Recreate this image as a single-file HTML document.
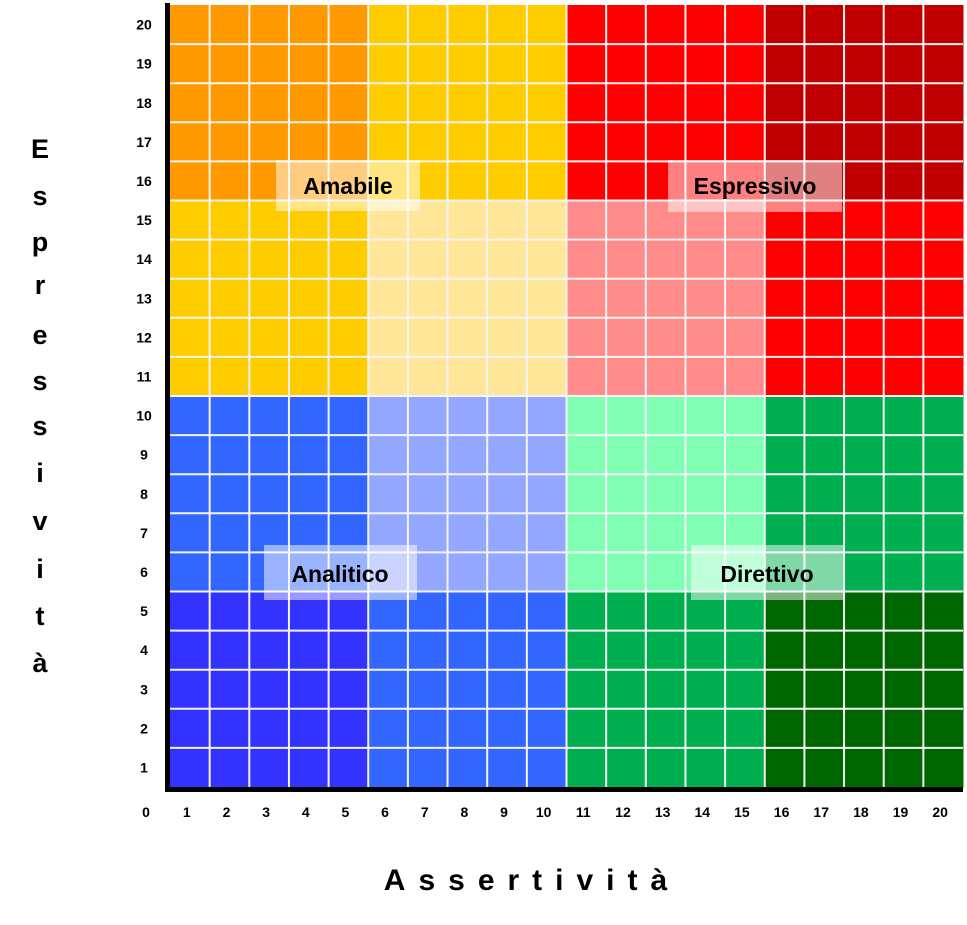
<!DOCTYPE html>
<html><head><meta charset="utf-8"><style>
body{margin:0;background:#fff;}
svg{display:block;font-family:"Liberation Sans",Arial,sans-serif;}
</style></head><body>
<svg width="967" height="925" viewBox="0 0 967 925" xmlns="http://www.w3.org/2000/svg">
<g id="cells"></g>
<g id="grid" stroke="#f4f4f4" stroke-width="2"></g>
<rect x="165" y="3" width="5" height="789" fill="#000"/>
<rect x="165" y="787" width="798" height="5" fill="#000"/>
<g font-weight="bold" fill="#000">
<rect x="276" y="160" width="144" height="51" fill="#fff" fill-opacity="0.5"/>
<text x="348" y="194" font-size="23" text-anchor="middle">Amabile</text>
<rect x="668" y="160" width="174" height="52" fill="#fff" fill-opacity="0.5"/>
<text x="755" y="194" font-size="23" text-anchor="middle">Espressivo</text>
<rect x="264" y="545" width="153" height="55" fill="#fff" fill-opacity="0.5"/>
<text x="340" y="582" font-size="23" text-anchor="middle">Analitico</text>
<rect x="691" y="545" width="152" height="55" fill="#fff" fill-opacity="0.5"/>
<text x="767" y="582" font-size="23" text-anchor="middle">Direttivo</text>
</g>
<g id="yl" font-size="14" font-weight="bold" text-anchor="middle"></g>
<g id="xl" font-size="14" font-weight="bold" text-anchor="middle"></g>
<g font-size="27" font-weight="bold" text-anchor="middle">
<text x="40" y="158">E</text><text x="40" y="205">s</text><text x="40" y="251">p</text>
<text x="40" y="294">r</text><text x="40" y="344">e</text><text x="40" y="390">s</text>
<text x="40" y="435">s</text><text x="40" y="482">i</text><text x="40" y="530">v</text>
<text x="40" y="578">i</text><text x="40" y="625">t</text><text x="40" y="672">à</text>
</g>
<text x="532" y="890" font-size="30" font-weight="bold" text-anchor="middle" letter-spacing="13">Assertività</text>
</svg>
<script>
var ns="http://www.w3.org/2000/svg";
var x0=170,x1=963,y0=5,y1=787,cw=(x1-x0)/20,rh=(y1-y0)/20;
var C=[["#FF9900","#FFCC00","#FF0000","#C00000"],
["#FFCC00","#FFE699","#FF8B8B","#FF0000"],
["#3366FF","#94A8FF","#80FFB4","#00B050"],
["#3333FF","#3366FF","#00B050","#006600"]];
var g=document.getElementById("cells");
for(var r=0;r<4;r++)for(var c=0;c<4;c++){var e=document.createElementNS(ns,"rect");
e.setAttribute("x",x0+c*5*cw);e.setAttribute("y",y0+r*5*rh);e.setAttribute("width",5*cw+0.5);e.setAttribute("height",5*rh+0.5);e.setAttribute("fill",C[r][c]);g.appendChild(e);}
var gr=document.getElementById("grid");
for(var i=1;i<20;i++){var l=document.createElementNS(ns,"line");var x=x0+i*cw;
l.setAttribute("x1",x);l.setAttribute("x2",x);l.setAttribute("y1",y0);l.setAttribute("y2",y1);gr.appendChild(l);
var m=document.createElementNS(ns,"line");var y=y0+i*rh;
m.setAttribute("x1",x0);m.setAttribute("x2",x1);m.setAttribute("y1",y);m.setAttribute("y2",y);gr.appendChild(m);}
var yl=document.getElementById("yl"),xl=document.getElementById("xl");
for(var i=1;i<=20;i++){var t=document.createElementNS(ns,"text");t.setAttribute("x",144);t.setAttribute("y",y1-(i-0.5)*rh+5);t.textContent=i;yl.appendChild(t);
var u=document.createElementNS(ns,"text");u.setAttribute("x",x0+(i-0.5)*cw-3);u.setAttribute("y",817);u.textContent=i;xl.appendChild(u);}
var z=document.createElementNS(ns,"text");z.setAttribute("x",146);z.setAttribute("y",817);z.textContent="0";xl.appendChild(z);
</script>
</body></html>
